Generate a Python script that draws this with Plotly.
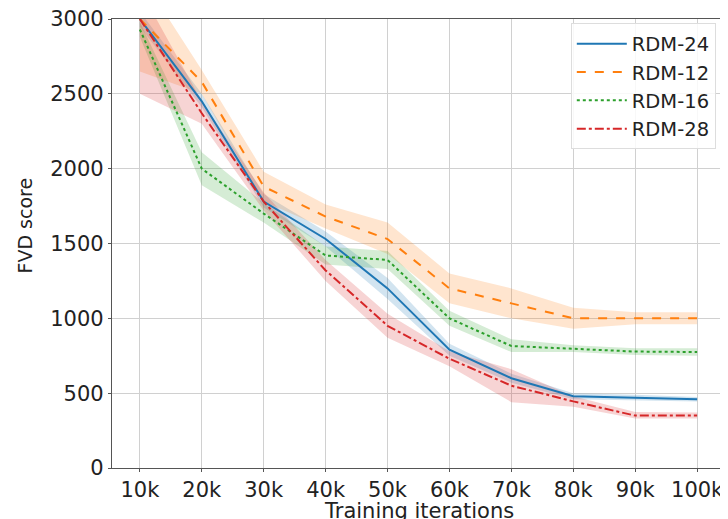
import plotly.graph_objects as go

iterations = [10, 20, 30, 40, 50, 60, 70, 80, 90, 100]  # thousands
tick_labels = ["10k", "20k", "30k", "40k", "50k", "60k", "70k", "80k", "90k", "100k"]
y_ticks = [0, 500, 1000, 1500, 2000, 2500, 3000]

rdm24 = [3000, 2450, 1780, 1530, 1200, 790, 600, 480, 470, 460]
rdm24_lo = [2950, 2410, 1740, 1480, 1130, 750, 570, 460, 450, 445]
rdm24_hi = [3050, 2500, 1830, 1580, 1270, 830, 630, 500, 490, 475]

rdm12 = [3000, 2580, 1880, 1680, 1530, 1200, 1100, 1000, 1000, 1000]
rdm12_lo = [2650, 2500, 1780, 1600, 1430, 1100, 1000, 930, 960, 960]
rdm12_hi = [3300, 2660, 1980, 1760, 1640, 1300, 1200, 1070, 1040, 1040]

rdm16 = [2930, 2000, 1700, 1420, 1390, 1000, 815, 798, 778, 775]
rdm16_lo = [2880, 1890, 1640, 1360, 1330, 950, 775, 775, 755, 750]
rdm16_hi = [2980, 2110, 1770, 1480, 1450, 1050, 860, 820, 800, 800]

rdm28 = [3000, 2370, 1780, 1320, 950, 730, 550, 445, 350, 350]
rdm28_lo = [2500, 2300, 1720, 1250, 870, 680, 440, 410, 330, 330]
rdm28_hi = [3200, 2450, 1840, 1390, 1030, 780, 660, 480, 375, 370]

series = [
    ("RDM-24", rdm24, rdm24_lo, rdm24_hi, "#1f77b4", "solid", 2),
    ("RDM-12", rdm12, rdm12_lo, rdm12_hi, "#ff7f0e", "dash", 2),
    ("RDM-16", rdm16, rdm16_lo, rdm16_hi, "#2ca02c", "dot", 2),
    ("RDM-28", rdm28, rdm28_lo, rdm28_hi, "#d62728", "dashdot", 2),
]

def rgba(hexc, a):
    h = hexc.lstrip("#")
    r, g, b = int(h[0:2], 16), int(h[2:4], 16), int(h[4:6], 16)
    return f"rgba({r},{g},{b},{a})"

fig = go.Figure()
for name, y, lo, hi, col, dash, w in series:
    fig.add_trace(go.Scatter(
        x=iterations + iterations[::-1], y=hi + lo[::-1],
        fill="toself", fillcolor=rgba(col, 0.2), line=dict(width=0),
        hoverinfo="skip", showlegend=False, mode="lines"))
for name, y, lo, hi, col, dash, w in series:
    fig.add_trace(go.Scatter(
        x=iterations, y=y, name=name, mode="lines",
        line=dict(color=col, dash=dash, width=w)))

axis_common = dict(
    showline=True, linecolor="#555555", linewidth=1.2, mirror=True,
    ticks="outside", ticklen=3, tickcolor="#555555",
    showgrid=True, gridcolor="#d0d0d0", gridwidth=1, zeroline=False,
    tickfont=dict(size=21, color="#222222"), automargin=False,
    ticklabeloverflow="allow",
)

# page body has an 8px margin, so the figure is 8px smaller than the window
fig.update_layout(
    width=720, height=511,
    margin=dict(l=104, r=3, t=11, b=51),
    paper_bgcolor="white", plot_bgcolor="white",
    font=dict(family="DejaVu Sans", color="#222222"),
    xaxis=dict(range=[5.5, 104.5], tickvals=iterations, ticktext=tick_labels,
               **axis_common),
    yaxis=dict(range=[0, 3000], tickvals=y_ticks, **axis_common),
    legend=dict(x=0.985, y=0.99, xanchor="right", yanchor="top",
                bgcolor="rgba(255,255,255,0.85)", bordercolor="#dddddd", borderwidth=1,
                font=dict(size=19.5, color="#222222"), tracegroupgap=0,
                itemwidth=50),
    annotations=[
        dict(text="Training iterations", xref="paper", yref="paper",
             x=0.5, y=-0.095, xanchor="center", yanchor="middle",
             showarrow=False, font=dict(size=21, color="#222222")),
        dict(text="FVD score", xref="paper", yref="paper", textangle=-90,
             x=-0.142, y=0.54, xanchor="center", yanchor="middle",
             showarrow=False, font=dict(size=19, color="#222222")),
    ],
)

fig.write_html("out.html")
